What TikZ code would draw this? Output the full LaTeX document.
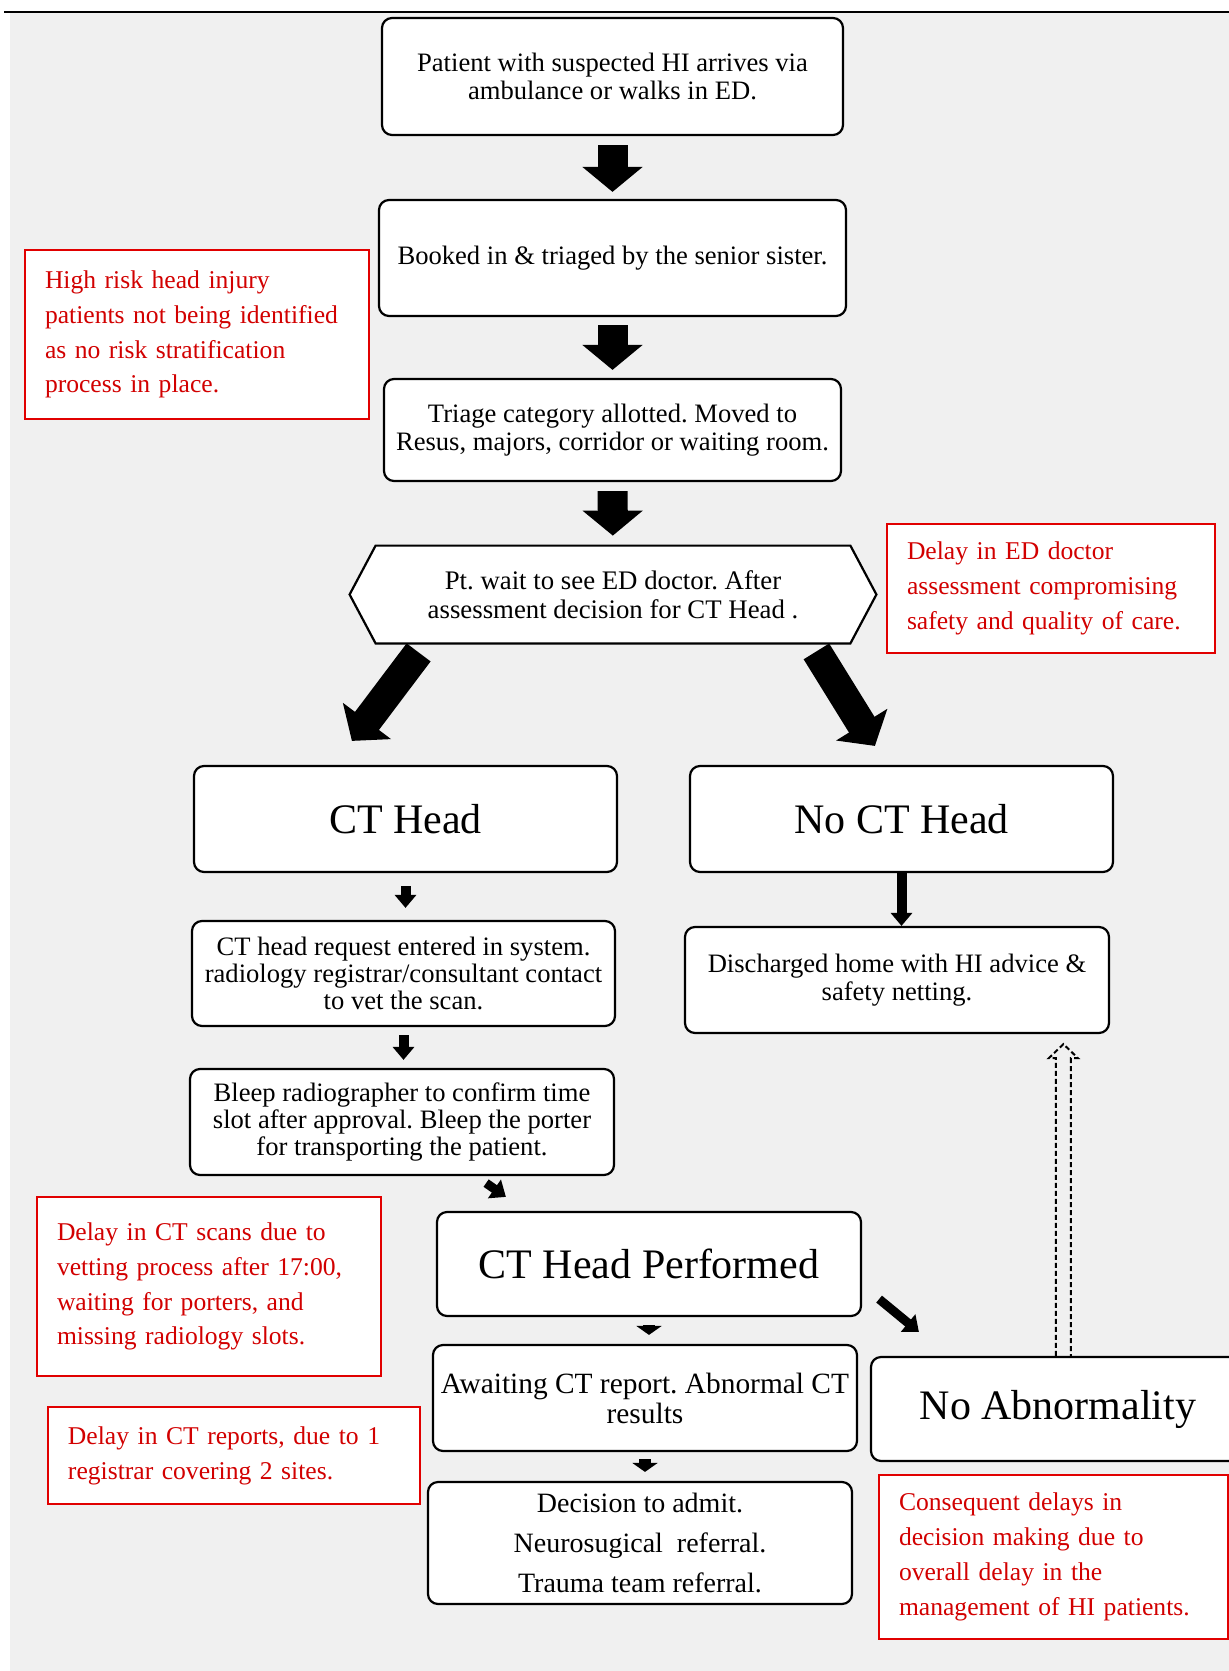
\documentclass[tikz,border=0pt]{standalone}
\usepackage{fontspec}
\setmainfont{Liberation Serif}
\usetikzlibrary{arrows.meta,calc,backgrounds}
\definecolor{riskred}{RGB}{225,0,0}
\definecolor{risktext}{RGB}{210,0,0}
\definecolor{sheet}{RGB}{240,240,240}
\frenchspacing
\begin{document}
\begin{tikzpicture}[x=0.5pt,y=-0.5pt,
  box/.style={draw,line width=1.1pt,rounded corners=5pt,fill=white,align=center,inner sep=2pt,
    font=\fontsize{13.3}{14.3}\selectfont},
  bigbox/.style={box,minimum width=211.5pt,minimum height=53pt,font=\fontsize{21}{24}\selectfont},
  riskbox/.style={draw=riskred,line width=1pt,fill=white,text=risktext,align=left,
    inner xsep=10pt,font=\fontsize{12.8}{17.4}\selectfont},
  bigarrow/.style={line width=15pt,-{Triangle[width=29.5pt,length=12.5pt]}},
  smallarrow/.style={line width=5pt,-{Triangle[width=10.5pt,length=6.5pt]}},
  midarrow/.style={line width=4.5pt,-{Triangle[width=11pt,length=7pt]}},
  stubarrow/.style={line width=6pt,-{Triangle[width=12.5pt,length=4.5pt]}},
  hollowarrow/.style={line width=1pt,dash pattern=on 2.5pt off 1.5pt}
  ]
  \useasboundingbox (0,0) rectangle (1229,1671);
  \clip (0,0) rectangle (1229,1671);
  \begin{scope}[on background layer]
    \fill[sheet] (10,12) rectangle (1229,1671);
  \end{scope}
  \draw[line width=1pt] (4,12) -- (1229,12);

  \node[box,minimum width=230.5pt,minimum height=58.5pt] (arrive) at (612.5,76.5)
    {Patient with suspected HI arrives via\\ambulance or walks in ED.};
  \node[box,minimum width=233.5pt,minimum height=58pt] (booked) at (612.5,258)
    {Booked in \& triaged by the senior sister.};
  \node[box,minimum width=228.5pt,minimum height=51pt] (triage) at (612.5,430)
    {Triage category allotted. Moved to\\Resus, majors, corridor or waiting room.};
  \node[align=center,minimum width=237pt,minimum height=48.5pt,inner sep=0pt,
    font=\fontsize{13.4}{14.4}\selectfont] (decide) at (613,594.5)
    {Pt. wait to see ED doctor. After\\assessment decision for CT Head .};
  \begin{scope}[on background layer]
    \draw[line width=1.1pt,fill=white] (decide.north west) -- (decide.north east)
      -- ([xshift=13pt]decide.east) -- (decide.south east) -- (decide.south west)
      -- ([xshift=-13pt]decide.west) -- cycle;
  \end{scope}

  \node[bigbox] (ct_head) at (405.5,819) {CT Head};
  \node[bigbox] (no_ct) at (901.5,819) {No CT Head};
  \node[box,minimum width=211.5pt,minimum height=52.5pt,font=\fontsize{13.3}{13.6}\selectfont]
    (request) at (403.5,973.5)
    {CT head request entered in system.\\radiology registrar/consultant contact\\to vet the scan.};
  \node[box,minimum width=212pt,minimum height=53pt] (discharge) at (897,980)
    {Discharged home with HI advice \&\\safety netting.};
  \node[box,minimum width=212pt,minimum height=53pt,font=\fontsize{13.3}{13.6}\selectfont]
    (bleep) at (402,1122)
    {Bleep radiographer to confirm time\\slot after approval. Bleep the porter\\for transporting the patient.};
  \node[bigbox,minimum width=212pt,minimum height=52pt] (ct_done) at (649,1264) {CT Head Performed};
  \node[box,minimum width=212pt,minimum height=53pt,font=\fontsize{14.7}{15}\selectfont]
    (awaiting) at (645,1398) {Awaiting CT report. Abnormal CT\\results};
  \node[box,minimum width=212pt,minimum height=61pt,font=\fontsize{14}{20.2}\selectfont]
    (admit) at (640,1543) {Decision to admit.\\Neurosugical\ \ referral.\\Trauma team referral.};
  \node[bigbox,minimum width=187pt,minimum height=52pt] (no_abn) at (1058,1409) {No Abnormality};

  \node[riskbox,text width=152pt,minimum height=84.5pt] (risk_1) at (197,334.5)
    {High risk head injury\\patients not being identified\\as no risk stratification\\process in place.};
  \node[riskbox,text width=144pt,minimum height=64.5pt] (risk_2) at (1051,588.5)
    {Delay in ED doctor\\assessment compromising\\safety and quality of care.};
  \node[riskbox,text width=152pt,minimum height=89.5pt] (risk_3) at (209,1286.5)
    {Delay in CT scans due to\\vetting process after 17:00,\\waiting for porters, and\\missing radiology slots.\\[4pt]};
  \node[riskbox,text width=166pt,minimum height=48.5pt] (risk_4) at (234,1455.5)
    {Delay in CT reports, due to 1\\registrar covering 2 sites.};
  \node[riskbox,text width=154.5pt,minimum height=82pt] (risk_5) at (1053.5,1557)
    {Consequent delays in\\decision making due to\\overall delay in the\\management of HI patients.};

  \draw[bigarrow,shorten <=4.5pt,shorten >=3.5pt] (arrive) -- (booked);
  \draw[bigarrow,shorten <=4pt,shorten >=4pt] (booked) -- (triage);
  \draw[bigarrow,shorten <=4.5pt,shorten >=5pt] (triage) -- (decide);
  \draw[bigarrow] ($(decide.south west)+(43,9)$) -- ($(ct_head.north west)+(159,-24)$);
  \draw[bigarrow] ($(decide.south east)+(-34,8)$) -- ($(no_ct.north west)+(186,-19)$);
  \draw[smallarrow] (no_ct.south) -- (no_ct.south |- discharge.north);
  \draw[smallarrow,shorten <=6.5pt,shorten >=6pt] (ct_head.south) -- (ct_head.south |- request.north);
  \draw[smallarrow,shorten <=4pt,shorten >=4pt] (request.south) -- (request.south |- bleep.north);
  \draw[midarrow] ($(bleep.south east)+(-129,7)$) -- ($(ct_done.north west)+(70,-14)$);
  \draw[midarrow] ($(ct_done.south east)+(17,-18)$) -- ($(no_abn.north west)+(49,-24)$);
  \draw[stubarrow,shorten <=4pt,shorten >=4.5pt] (ct_done.south) -- (ct_done.south |- awaiting.north);
  \draw[stubarrow,shorten <=3.5pt,shorten >=4.5pt] (awaiting.south) -- (awaiting.south |- admit.north);

  \coordinate (d_base) at ($(no_abn.north west)+(193.5,0)$);
  \coordinate (d_tip) at ($(d_base |- discharge.south)+(0,10)$);
  \draw[hollowarrow] ($(d_base)+(-7.5,0)$) -- ($(d_tip)+(-7.5,14)$) -- ($(d_tip)+(-14.5,14)$)
    -- (d_tip) -- ($(d_tip)+(14.5,14)$) -- ($(d_tip)+(7.5,14)$) -- ($(d_base)+(7.5,0)$);
\end{tikzpicture}
\end{document}
